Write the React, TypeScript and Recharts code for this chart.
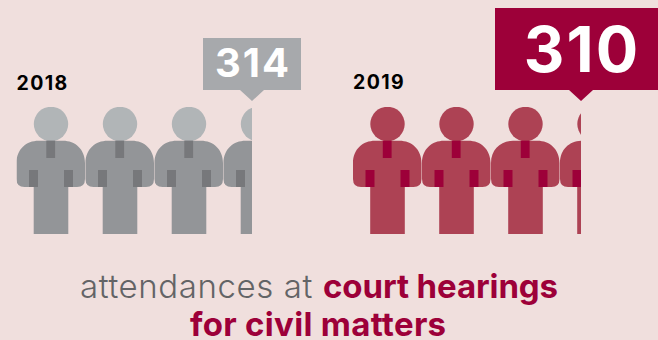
import React from "react";
import { BarChart, Bar, XAxis, YAxis, LabelList } from "recharts";

const years = ["2018", "2019"];
const attendances = [314, 310];
const valueDomain: [number, number] = [0, 400];

const PAGE_W = 658;
const PAGE_H = 340;
const PITCH = 69;
const FONT = "Inter, 'Open Sans', sans-serif";

type Theme = {
  id: string;
  head: string;
  body: string;
  accent: string;
  callout: string;
  left: number;
  plotW: number;
  boxTop: number;
  boxHalf: number;
  numSize: number;
  numBase: number;
  numSpacing: number;
  yearY: number;
};

const themes: Theme[] = [
  { id: "p18", head: "#b1b5b7", body: "#939598", accent: "#77787b", callout: "#a7a9ac", left: 16.5, plotW: 300, boxTop: 38, boxHalf: 49, numSize: 40, numBase: 77, numSpacing: 2, yearY: 90 },
  { id: "p19", head: "#ad4254", body: "#ad4254", accent: "#9d0039", callout: "#9d0039", left: 353, plotW: 294.2, boxTop: 8, boxHalf: 86, numSize: 63, numBase: 72, numSpacing: 2, yearY: 89 },
];

// One figure of the row, anchored at its top-left corner.
function Person({ x, y, t }: { x: number; y: number; t: Theme }) {
  const shoulders = `M${x} ${y + 56}
    C${x} ${y + 42} ${x + 10} ${y + 33.7} ${x + 22} ${y + 33.7}
    L${x + 46.5} ${y + 33.7}
    C${x + 58.5} ${y + 33.7} ${x + 68.5} ${y + 42} ${x + 68.5} ${y + 56}
    L${x + 68.5} ${y + 72}
    Q${x + 68.5} ${y + 80} ${x + 60.5} ${y + 80}
    L${x + 51.8} ${y + 80} L${x + 51.8} ${y + 127} L${x + 17.2} ${y + 127} L${x + 17.2} ${y + 80}
    L${x + 8} ${y + 80}
    Q${x} ${y + 80} ${x} ${y + 72} Z`;
  return (
    <g>
      <circle cx={x + 34.5} cy={y + 17} r={17.2} fill={t.head} />
      <path d={shoulders} fill={t.body} />
      <rect x={x + 29.8} y={y + 33.7} width={8.8} height={17.3} fill={t.accent} />
      <rect x={x + 12.5} y={y + 63} width={9} height={17} fill={t.accent} />
      <rect x={x + 47.5} y={y + 63} width={9} height={17} fill={t.accent} />
    </g>
  );
}

// The bar is a row of figures cut off at the bar's length.
function PeopleBar(props: any, t: Theme) {
  const { x, y, width, height } = props;
  const count = Math.ceil(width / PITCH);
  return (
    <g>
      <clipPath id={t.id}>
        <rect x={x} y={y} width={width} height={height} />
      </clipPath>
      <g clipPath={`url(#${t.id})`}>
        {Array.from({ length: count }, (_, i) => (
          <Person key={i} x={x + i * PITCH} y={y} t={t} />
        ))}
      </g>
    </g>
  );
}

function Callout(props: any, t: Theme) {
  const { x, width, value } = props;
  const tip = x + width;
  const bottom = 90;
  return (
    <g>
      <path
        d={`M${tip - t.boxHalf} ${t.boxTop} L${tip + t.boxHalf} ${t.boxTop} L${tip + t.boxHalf} ${bottom}
            L${tip + 12} ${bottom} L${tip} ${bottom + 11} L${tip - 12} ${bottom} L${tip - t.boxHalf} ${bottom} Z`}
        fill={t.callout}
      />
      <text x={tip + t.numSpacing / 2} y={t.numBase} textAnchor="middle" fontFamily={FONT} fontWeight={700} fontSize={t.numSize} letterSpacing={t.numSpacing} fill="#ffffff">
        {value}
      </text>
    </g>
  );
}

function YearLabel(props: any, t: Theme) {
  const { x, value } = props;
  return (
    <text x={x} y={t.yearY} fontFamily={FONT} fontWeight={700} fontSize={19.5} letterSpacing={1.4} fill="#000000">
      {value}
    </text>
  );
}

function Row({ index }: { index: number }) {
  const t = themes[index];
  const data = [{ year: years[index], value: attendances[index] }];
  return (
    <div style={{ position: "absolute", left: 0, top: 0 }}>
      <BarChart
        width={PAGE_W}
        height={PAGE_H}
        data={data}
        layout="vertical"
        barCategoryGap={0}
        margin={{ left: t.left, right: PAGE_W - t.left - t.plotW, top: 107, bottom: 106 }}
      >
        <XAxis type="number" domain={valueDomain} hide />
        <YAxis type="category" dataKey="year" hide />
        <Bar dataKey="value" isAnimationActive={false} shape={(p: any) => PeopleBar(p, t)}>
          <LabelList dataKey="value" content={(p: any) => Callout(p, t)} />
          <LabelList dataKey="year" content={(p: any) => YearLabel(p, t)} />
        </Bar>
      </BarChart>
    </div>
  );
}

export default function App() {
  return (
    <div style={{ position: "absolute", left: 0, top: 0, width: PAGE_W, height: PAGE_H, overflow: "hidden", background: "#f0dfdd" }}>
      <Row index={0} />
      <Row index={1} />
      <svg width={PAGE_W} height={PAGE_H} style={{ position: "absolute", left: 0, top: 0 }}>
        <text x={80} y={298} fontFamily={FONT} fontSize={33} fontWeight={300} letterSpacing={0.6} fill="#636466">
          attendances at
        </text>
        <text x={323} y={298} fontFamily={FONT} fontSize={33} fontWeight={700} letterSpacing={-0.1} fill="#9d0039">
          court hearings
        </text>
        <text x={190} y={336} fontFamily={FONT} fontSize={33} fontWeight={700} letterSpacing={0.3} fill="#9d0039">
          for civil matters
        </text>
      </svg>
    </div>
  );
}
